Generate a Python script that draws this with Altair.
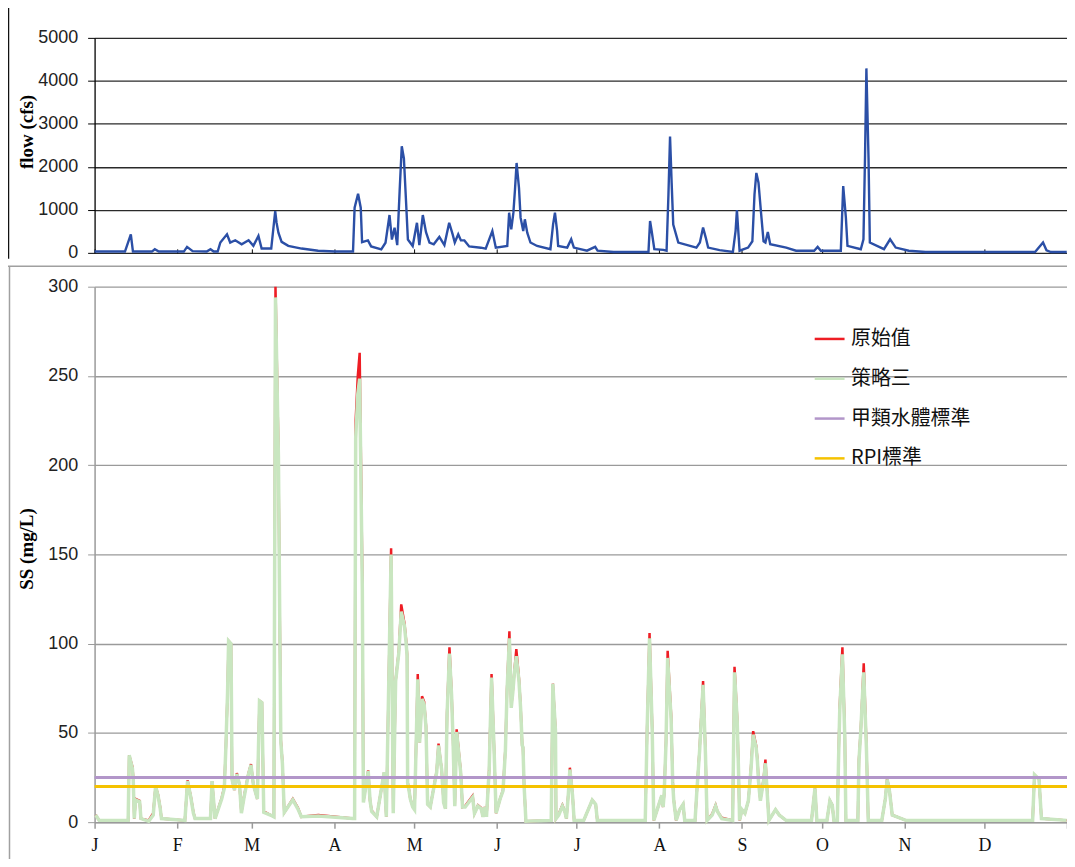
import altair as alt
import pandas as pd

# ---------------- data ----------------
MONTH_STARTS = [0, 31, 59, 90, 120, 151, 181, 212, 243, 273, 304, 334, 365]
MONTH_LABELS = ['J', 'F', 'M', 'A', 'M', 'J', 'J', 'A', 'S', 'O', 'N', 'D', '']

FLOW_TICKS = [0, 1000, 2000, 3000, 4000, 5000]
SS_TICKS = [0, 50, 100, 150, 200, 250, 300]

# daily flow (cfs), key points
flow_day = [0, 11.4, 13.6, 14.4, 21.5, 22.6, 24.1, 33.5, 34.7, 36.8, 42.1, 43.5, 44.7, 46.2,
            47.2, 49.7, 50.9, 52.8, 55.2, 57.8, 59.6, 61.5, 62.7, 66.3, 67.8, 68.3, 69.0,
            70.2, 72.7, 77.7, 83.9, 90.2, 97.0, 97.6, 98.9, 99.9, 100.4, 102.6, 103.8,
            107.6, 109.2, 110.7, 111.6, 112.6, 113.6, 114.5, 115.3, 116.1, 116.9, 117.6,
            119.4, 121.0, 121.9, 123.2, 124.4, 125.7, 127.3, 129.4, 131.3, 133.1, 134.4,
            135.2, 136.5, 137.5, 138.8, 140.6, 145.0, 146.8, 149.3, 150.6, 154.9, 155.6,
            156.4, 157.2, 157.8, 158.4, 159.3, 159.9, 160.9, 161.5, 162.4, 163.6, 166.1,
            171.1, 172.1, 172.8, 173.6, 174.0, 177.4, 178.9, 179.9, 184.8, 187.9, 188.8,
            194.8, 207.9, 208.5, 209.1, 210.1, 213.5, 214.7, 215.4, 216.0, 216.6, 217.2,
            219.1, 225.9, 227.2, 228.4, 229.4, 230.3, 234.6, 239.6, 240.6, 241.1, 242.1,
            245.3, 246.9, 247.7, 248.4, 249.2, 250.2, 251.1, 251.8, 252.7, 253.6, 259.6,
            263.3, 270.1, 271.4, 272.6, 280.1, 281.0, 282.0, 282.6, 287.6, 288.6, 289.2,
            289.7, 290.5, 291.0, 296.3, 298.6, 300.7, 305.6, 311.9, 353.0, 356.0, 357.3,
            359.0, 364.9]
flow_cfs = [30, 30, 432, 30, 30, 85, 30, 30, 139, 40, 30, 85, 30, 30,
            240, 432, 240, 293, 200, 293, 162, 393, 100, 100, 972, 702, 470,
            255, 162, 100, 50, 30, 30, 1049, 1373, 1049, 250, 288, 150,
            80, 235, 880, 310, 586, 180, 1435, 2480, 2200, 1200, 310,
            160, 700, 180, 880, 480, 240, 200, 370, 180, 700, 430,
            240, 430, 290, 290, 150, 120, 100, 509, 120, 160, 934,
            548, 934, 1473, 2090, 1512, 818, 509, 780, 470, 240, 160,
            85, 663, 934, 509, 162, 123, 316, 123, 50, 139, 50,
            20, 20, 740, 509, 85, 70, 50, 1358, 2708, 1628, 660,
            240, 123, 240, 587, 355, 123, 62, 20, 509, 995, 50,
            123, 270, 1358, 1860, 1630, 900, 270, 240, 486, 200, 123,
            50, 50, 139, 50, 50, 1551, 823, 162, 85, 316, 2284,
            4290, 2207, 240, 85, 316, 123, 50, 20, 20, 240, 60,
            20, 20]

# suspended solids (mg/L): day, 策略三 (strategy 3), 原始值 (original)
ss_day = [0.4, 1.7, 12.6, 13.0, 14.2, 14.5, 14.9, 15.4, 16.9, 17.4, 20.3, 22.0, 22.9, 23.8,
          24.6, 25.1, 33.9, 34.9, 36.1, 37.1, 37.7, 43.5, 44.1, 45.2, 47.7, 48.7, 49.3,
          49.9, 50.3, 51.2, 51.6, 52.5, 53.4, 54.4, 55.1, 56.0, 57.7, 58.7, 59.6, 61.1,
          61.9, 62.8, 63.5, 66.0, 67.3, 67.9, 69.0, 69.5, 69.9, 70.5, 71.2, 74.4, 76.3,
          77.6, 84.0, 96.9, 97.6, 98.0, 98.8, 99.5, 100.5, 100.9, 102.7, 103.4, 104.0,
          105.9, 108.7, 109.5, 110.4, 111.3, 112.1, 113.0, 114.2, 115.1, 116.3, 116.9,
          117.3, 117.5, 118.1, 118.5, 119.4, 120.1, 120.7, 121.3, 122.0, 122.9, 123.7,
          124.4, 124.6, 125.0, 126.0, 128.4, 129.1, 130.3, 131.0, 131.7, 132.3, 133.2,
          134.0, 134.5, 135.2, 135.9, 137.4, 138.1, 139.1, 141.9, 142.6, 143.9, 145.1,
          145.8, 146.5, 147.1, 148.1, 149.0, 149.9, 150.7, 152.2, 153.3, 154.2, 154.8,
          155.7, 156.4, 157.0, 157.6, 158.3, 159.3, 159.9, 160.5, 160.8, 161.2, 161.9,
          171.4, 172.0, 173.0, 173.2, 174.2, 175.6, 176.5, 177.1, 177.8, 178.4, 179.4,
          180.0, 183.6, 186.8, 188.1, 188.7, 206.7, 207.4, 208.3, 209.3, 209.9, 212.9,
          213.4, 213.8, 214.5, 215.1, 216.4, 217.0, 217.4, 218.3, 219.6, 220.9, 221.5,
          225.4, 226.0, 227.1, 228.4, 229.3, 229.9, 231.8, 233.1, 233.8, 235.4, 239.5,
          240.2, 241.2, 241.7, 242.1, 243.0, 244.1, 245.4, 246.4, 247.2, 248.3, 248.8,
          249.2, 249.9, 251.1, 251.8, 252.4, 253.1, 255.6, 257.0, 259.5, 269.1, 270.4,
          271.1, 274.9, 276.0, 276.9, 277.5, 278.8, 279.2, 279.7, 280.7, 281.6, 282.0,
          286.5, 286.9, 287.6, 288.1, 288.7, 289.7, 290.4, 295.5, 296.8, 297.5, 298.4,
          299.4, 304.5, 352.1, 352.8, 354.5, 355.4, 364.9]
ss_strategy3 = [4, 1, 1, 37.5, 30, 24, 2, 12.5, 11.5, 2, 0.5, 4, 20, 15,
                8, 2, 1, 23, 14, 5, 2, 2, 23, 2, 13, 19, 43,
                72, 101.5, 100, 24, 18, 27, 21, 5, 13, 26.5, 32, 21, 13,
                68, 67, 5.5, 4, 3, 294, 205, 113, 45, 33, 5.5, 12.5, 7.5,
                3, 3.5, 2, 2, 215, 240, 248.5, 130, 11, 28.7, 12, 6,
                3, 28, 3, 77, 150, 5, 79, 95, 118, 110, 101,
                93, 22, 17, 13, 8.5, 7, 44, 80, 44.6, 69, 66,
                53, 39, 10, 8.5, 28, 43, 29, 11, 7.5, 60, 94.5,
                71, 48, 9, 50.5, 28, 8.5, 8.5, 14, 5, 9, 7.5,
                3, 8.5, 3, 29, 81, 43, 5, 13, 17.5, 40, 73,
                103, 64, 73, 84, 93, 79, 64, 43, 42, 21, 0.5,
                1, 77.6, 51, 2, 4, 9, 6, 2, 15, 29.5, 15,
                1, 1, 12.4, 10, 1, 1, 52, 103, 52, 1, 15,
                8.5, 16, 45, 92, 58, 22, 12, 1, 7, 10, 1,
                1, 16, 40, 77, 38, 1, 4, 9, 6, 2, 1,
                84, 57, 29, 1, 7, 5, 12, 30, 49, 42, 34,
                23, 12, 23, 33, 18, 1, 7, 4, 1, 1, 19,
                1, 1, 12, 9.5, 1, 1, 32, 63, 94, 47, 1,
                1, 34, 51, 67, 84, 42, 1, 1, 13, 24, 17,
                4, 1, 1, 26.5, 24, 2, 1]
ss_original = [4, 1, 1, 37.5, 31, 25, 2, 13, 12, 2, 1, 5, 20, 15.5,
               8.5, 2, 1, 23.5, 14.5, 5.5, 2, 2, 23, 2, 13.5, 20, 43,
               72, 101.5, 100, 24, 18, 27.5, 21, 5.5, 13.5, 27, 32.5, 21, 13,
               68, 67, 6, 4, 3, 300, 208, 116, 46, 33.5, 5.5, 13, 8,
               3, 4, 2, 2, 225, 250, 263, 136, 11.5, 29, 12, 6.5,
               3, 28, 3, 78, 153.5, 5.5, 79.5, 96, 122, 111.5, 102.5,
               94, 22.5, 17.5, 13, 9, 7, 44.5, 83, 44.6, 70.5, 67.5,
               54, 39.5, 10, 8.5, 28.5, 44, 29, 11.5, 7.5, 61, 98,
               72.5, 49, 9.5, 52, 29, 8.5, 9, 14.7, 5, 9.5, 8,
               3, 8.5, 3, 29.5, 83, 43.5, 5, 13, 18, 41, 74,
               107, 65, 74, 85, 97, 80.5, 65, 43, 42, 21.5, 0.5,
               1, 77.6, 52, 2, 4.5, 9.5, 6, 2, 15.5, 30.5, 15.5,
               1, 1, 12.4, 10, 1, 1, 53, 106, 53, 1, 15,
               8.5, 16, 46, 96, 60, 23, 12.5, 1, 7, 10, 1,
               1, 16, 41, 79, 39, 1, 4.5, 9.5, 6, 2.5, 1,
               87, 58, 30, 1, 7, 5, 12, 31, 51, 43, 35,
               24, 12.5, 24, 35, 19, 1, 7, 4, 1, 1, 19,
               1, 1, 12, 9.5, 1, 1, 33, 65, 98, 49, 1,
               1, 35, 52, 68, 89, 43, 1, 1, 13, 24.5, 17.5,
               4, 1, 1, 26.5, 24, 2, 1]

SERIES = ['原始值', '策略三', '甲類水體標準', 'RPI標準']
SERIES_COLORS = ['#ee1d24', '#c9e6c0', '#b296c9', '#f5c200']
STANDARD_NAMES = ['甲類水體標準', 'RPI標準']
STANDARD_VALUES = [25, 20]

# ---------------- tables ----------------
flow_df = pd.DataFrame({'day': flow_day, 'value': flow_cfs})
red_df = pd.DataFrame({'day': ss_day, 'value': ss_original, 'series': SERIES[0]})
green_df = pd.DataFrame({'day': ss_day, 'value': ss_strategy3, 'series': SERIES[1]})
std_df = pd.DataFrame({'series': STANDARD_NAMES, 'value': STANDARD_VALUES})

# ---------------- geometry / styles ----------------
W, H = 977, 788
TOP_H = 216          # flow panel occupies 0..216
SS_TOP = 250         # SS panel occupies 250..788

label_expr = ("[" + ",".join("'%s'" % s for s in MONTH_LABELS) + "][indexof(["
              + ",".join(str(v) for v in MONTH_STARTS) + "], datum.value)]")

x_scale = alt.Scale(domain=[0, 365], nice=False, zero=False)

top_x_axis = alt.Axis(orient='top', offset=-TOP_H, values=MONTH_STARTS, labels=False,
                      domain=False, grid=False, ticks=True, tickSize=4, tickColor='#000',
                      tickWidth=1, title=None)
bottom_x_axis = alt.Axis(orient='bottom', values=MONTH_STARTS, labelExpr=label_expr,
                         grid=False, domainColor='#9a9a9a', domainWidth=1.5,
                         tickColor='#9a9a9a', tickWidth=1.5, tickSize=6, labelPadding=8,
                         labelFont='Liberation Serif', labelFontSize=18, labelColor='#111',
                         labelFlush=False, labelOverlap=False, title=None)

flow_y = alt.Y('value:Q',
               scale=alt.Scale(domain=[0, 5000], range=[TOP_H, 0], nice=False, zero=True),
               axis=alt.Axis(orient='left', values=FLOW_TICKS, format='d', grid=True,
                             gridColor='#2a2a2a', gridWidth=1.3, domainColor='#000',
                             domainWidth=1.3, tickColor='#000', tickSize=7, labelPadding=10,
                             labelFont='Liberation Sans', labelFontSize=18, labelColor='#222',
                             title='flow (cfs)', titleFont='Liberation Serif',
                             titleFontSize=19, titleFontWeight='bold', titleColor='#000',
                             titleX=-58, titleY=94, titleAngle=270))

ss_y = alt.Y('value:Q',
             scale=alt.Scale(domain=[0, 300], range=[H, SS_TOP], nice=False, zero=True),
             axis=alt.Axis(orient='left', values=SS_TICKS, format='d', grid=True,
                           gridColor='#9a9a9a', gridWidth=1.3, domainColor='#9a9a9a',
                           domainWidth=1.5, tickColor='#9a9a9a', tickSize=7, labelPadding=10,
                           labelFont='Liberation Sans', labelFontSize=18, labelColor='#222',
                           title='SS (mg/L)', titleFont='Liberation Serif',
                           titleFontSize=19, titleFontWeight='bold', titleColor='#000',
                           titleX=-58, titleY=513, titleAngle=270))

color = alt.Color('series:N', scale=alt.Scale(domain=SERIES, range=SERIES_COLORS),
                  legend=alt.Legend(title=None, orient='none', legendX=722, legendY=286,
                                    direction='vertical', symbolType='stroke',
                                    symbolSize=900, symbolStrokeWidth=2.5,
                                    labelFont='Noto Sans CJK TC', labelFontSize=20,
                                    labelColor='#111', labelOffset=5, rowPadding=13,
                                    padding=0, labelLimit=300))

# ---------------- marks ----------------
flow_line = alt.Chart(flow_df).mark_line(color='#2b4fa6', strokeWidth=2.4).encode(
    x=alt.X('day:Q', scale=x_scale, axis=top_x_axis),
    y=flow_y,
)

red_line = alt.Chart(red_df).mark_line(strokeWidth=2.5).encode(
    x=alt.X('day:Q', scale=x_scale, axis=bottom_x_axis), y=ss_y, color=color)
green_line = alt.Chart(green_df).mark_line(strokeWidth=3.5).encode(
    x=alt.X('day:Q', scale=x_scale, axis=bottom_x_axis), y=ss_y, color=color)
std_rules = alt.Chart(std_df).mark_rule(strokeWidth=3).encode(y=ss_y, color=color)

ss_layer = alt.layer(red_line, green_line, std_rules)

# chart-area borders (decoration)
one = alt.Data(values=[{}])
border_top_chart = alt.Chart(one).mark_rule(color='#111', strokeWidth=1.5).encode(
    x=alt.value(-86.5), y=alt.value(-30), y2=alt.value(222))
border_bottom_h = alt.Chart(one).mark_rule(color='#a0a0a0', strokeWidth=1.5).encode(
    x=alt.value(-87), x2=alt.value(990), y=alt.value(229.5))
border_bottom_v = alt.Chart(one).mark_rule(color='#a0a0a0', strokeWidth=1.5).encode(
    x=alt.value(-85.5), y=alt.value(229.5), y2=alt.value(840))

chart = alt.layer(flow_line, ss_layer, border_top_chart, border_bottom_h, border_bottom_v).resolve_scale(
    y='independent'
).resolve_axis(
    x='independent', y='independent'
).properties(
    width=W, height=H,
    autosize=alt.AutoSizeParams(type='none'),
    padding={'left': 87, 'top': 28, 'right': 0, 'bottom': 35},
    background='white',
).configure_view(strokeWidth=0)

chart.save("out.html", embed_options={"renderer": "svg", "actions": False})
